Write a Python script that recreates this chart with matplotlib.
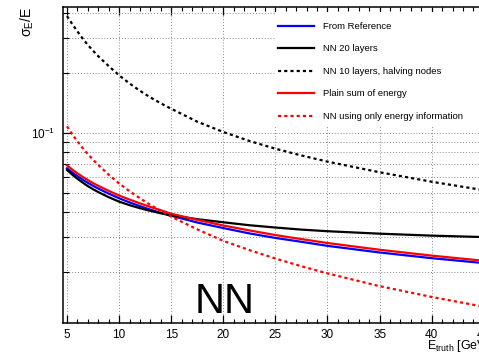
import numpy as np
import matplotlib
matplotlib.use('Agg')
import matplotlib.pyplot as plt
from matplotlib.ticker import LogLocator, NullFormatter, MultipleLocator
from matplotlib.patches import Rectangle

plt.rcParams['font.family'] = ['Liberation Sans', 'DejaVu Sans']
plt.rcParams['mathtext.fontset'] = 'custom'
plt.rcParams['mathtext.rm'] = 'Liberation Sans'
plt.rcParams['mathtext.it'] = 'Liberation Sans:italic'

# energy points (GeV) and resolution sigma_E/E
e_truth = [5, 5.5, 6, 6.5, 7, 7.5, 8, 9, 10, 11, 12, 13, 14, 15,
           17.5, 20, 22.5, 25, 27.5, 30, 35, 40, 45]
from_reference = [0.0665, 0.0634, 0.0607, 0.0583, 0.0562, 0.0543, 0.0526, 0.0496, 0.0470, 0.0448, 0.0429, 0.0412,
                  0.0397, 0.0384, 0.0355, 0.0333, 0.0313, 0.0297, 0.0284, 0.0271, 0.0251, 0.0235, 0.0222]
nn_20_layers = [0.0652, 0.0618, 0.0589, 0.0564, 0.0541, 0.0522, 0.0505, 0.0476, 0.0452, 0.0434, 0.0419, 0.0406,
                0.0395, 0.0386, 0.0369, 0.0356, 0.0344, 0.0335, 0.0327, 0.0321, 0.0312, 0.0305, 0.0300]
nn_10_halving = [0.387, 0.353, 0.324, 0.2985, 0.277, 0.259, 0.243, 0.217, 0.195, 0.1774, 0.163, 0.151,
                 0.141, 0.1324, 0.114, 0.1012, 0.0912, 0.0834, 0.0771, 0.0718, 0.0635, 0.0569, 0.0516]
plain_sum = [0.0688, 0.0655, 0.0627, 0.0602, 0.0580, 0.0560, 0.0543, 0.0512, 0.0485, 0.0463, 0.0443, 0.0425,
             0.0409, 0.0393, 0.0366, 0.0343, 0.0324, 0.0307, 0.0293, 0.0280, 0.0259, 0.0242, 0.0228]
nn_energy_only = [0.108, 0.0986, 0.0908, 0.0841, 0.0783, 0.0734, 0.0691, 0.0617, 0.0558, 0.0510, 0.0470, 0.0435,
                  0.0406, 0.0380, 0.0328, 0.0287, 0.0258, 0.0234, 0.0214, 0.0197, 0.0170, 0.0150, 0.0134]

W, H = 479, 354
fig = plt.figure(figsize=(W / 100, H / 100), dpi=100)

# axes runs past the right edge of the picture, like the cropped original
x0, x1 = 4.645, 50.5
px_per_unit = 10.42
ax_left = 63.3
ax_w = (x1 - x0) * px_per_unit
ax_bot, ax_top = 323, 7
ax = fig.add_axes([ax_left / W, (H - ax_bot) / H, ax_w / W, (ax_bot - ax_top) / H])

ax.set_yscale('log')
ax.set_xlim(x0, x1)
ax.set_ylim(0.01110, 0.4297)

lw = 1.6
dots = (0, (1.4, 1.4))
ax.plot(e_truth, from_reference, color='#0000ff', lw=lw, label='From Reference')
ax.plot(e_truth, nn_20_layers, color='black', lw=lw, label='NN 20 layers')
ax.plot(e_truth, nn_10_halving, color='black', lw=lw, ls=dots, label='NN 10 layers, halving nodes')
ax.plot(e_truth, plain_sum, color='#ff0000', lw=lw, label='Plain sum of energy')
ax.plot(e_truth, nn_energy_only, color='#ff0000', lw=lw, ls=dots, label='NN using only energy information')

# grid, ROOT style
ax.xaxis.set_major_locator(MultipleLocator(5))
ax.xaxis.set_minor_locator(MultipleLocator(1))
ax.yaxis.set_major_locator(LogLocator(base=10))
ax.yaxis.set_minor_locator(LogLocator(base=10, subs=np.arange(2, 10)))
ax.yaxis.set_minor_formatter(NullFormatter())
grid_kw = dict(color='#888888', lw=0.7, ls=(0, (1, 2)))
ax.grid(True, which='major', axis='both', **grid_kw)
ax.grid(True, which='minor', axis='y', **grid_kw)

ax.tick_params(axis='both', which='both', direction='in', top=True, right=False, labelsize=8.5)
ax.tick_params(axis='x', which='major', length=5.8, width=0.9, pad=4)
ax.tick_params(axis='x', which='minor', length=2.9, width=0.8)
ax.tick_params(axis='y', which='major', length=6.5, width=0.9, pad=6)
ax.tick_params(axis='y', which='minor', length=4.3, width=0.8)
for s in ax.spines.values():
    s.set_linewidth(1.1)

# white legend pad covering the grid
leg_bg = Rectangle((275 / W, (H - 127) / H), 1, 115 / H, transform=fig.transFigure,
                   facecolor='white', edgecolor='none', zorder=1.6)
ax.add_artist(leg_bg)

leg = ax.legend(loc='upper left', bbox_to_anchor=(275 / W, 1 - 19 / H), bbox_transform=fig.transFigure,
                frameon=False, fontsize=6.8, handlelength=3.8, handletextpad=1.0,
                labelspacing=1.43, borderpad=0.3, borderaxespad=0)

ax.text(20.1, 0.01245, 'NN', fontsize=30, ha='center', va='baseline')

fig.text(27 / W, 1 - 7 / H, r'σ$_{\rm E}$/E', rotation=90, ha='center', va='top', fontsize=10)
fig.text(427 / W, (H - 349) / H, r'E$_{\rm truth}$ [GeV]', ha='left', va='baseline', fontsize=9)

fig.savefig('out.png', dpi=100)
